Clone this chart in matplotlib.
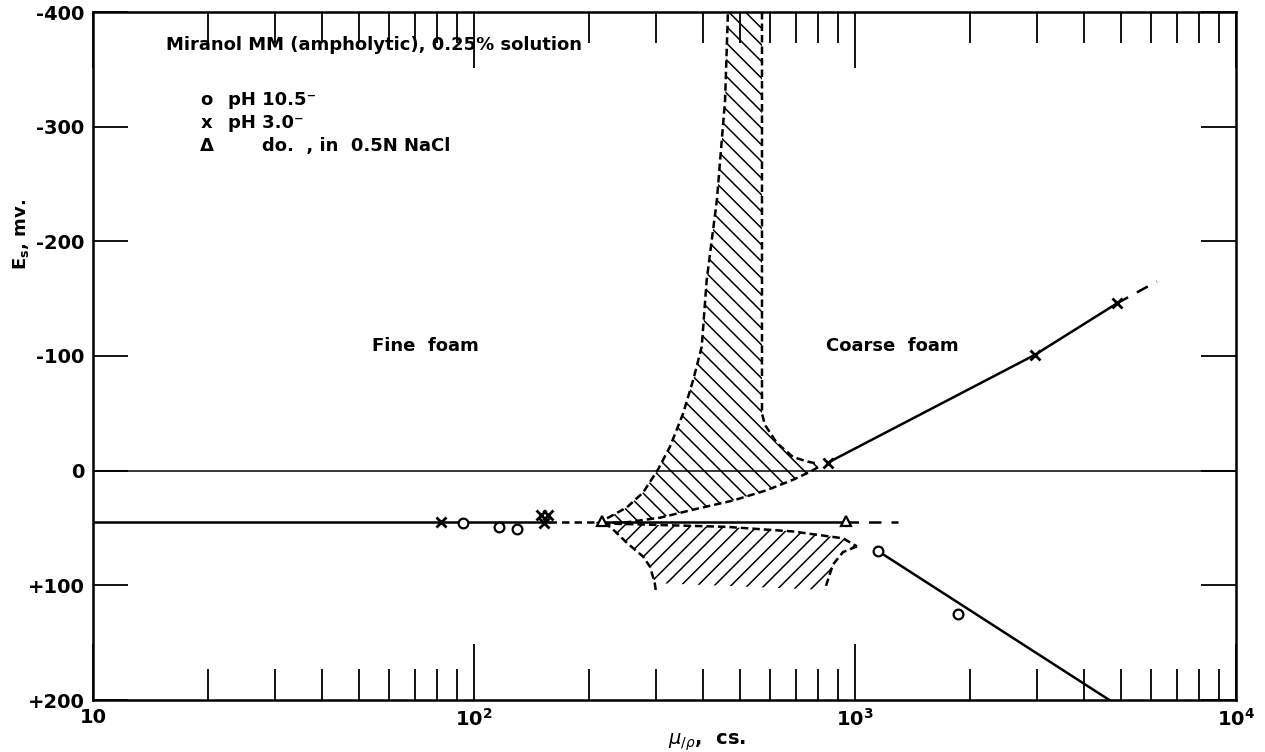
import math
import matplotlib
matplotlib.use("Agg")
import matplotlib.pyplot as plt
from matplotlib.ticker import FixedLocator, LogLocator, FuncFormatter, NullFormatter

# measured points
ph105_x = [93.5, 116, 130, 1148, 1860]        # pH 10.5 (circles)
ph105_y = [46, 49, 51, 70, 125]
ph30_x = [82, 150, 156, 153, 849, 2965, 4875]  # pH 3.0 (crosses)
ph30_y = [45, 39, 39, 46, -7, -101, -146]
nacl_x = [217, 946]                            # do., in 0.5N NaCl (triangles)
nacl_y = [44, 44]

# drawn curves
base_y = 45
base_x = [10, 157, 218, 946, 1300]
coarse_x = [849, 2965, 4875]
coarse_y = [-7, -101, -146]
coarse_ext_x = [4875, 6200]
coarse_ext_y = [-146, -165]
pos_x = [1148, 4700]
pos_y = [70, 201]

# hatched zone above the base line
up_left_x = [210, 228, 252, 278, 304, 327, 354, 376, 396, 408, 434, 456, 464]
up_left_y = [46, 40, 32, 19, -1, -21, -50, -79, -108, -166, -236, -323, -400]
up_right_x = [570, 570, 580, 624, 687, 748, 800]
up_right_y = [-400, -50, -40, -24, -12, -8, -6]
up_bot_x = [800, 762, 687, 587, 479, 376, 308, 252, 210]
up_bot_y = [-3, 1, 8, 17, 26, 34, 41, 45, 46]

# hatched zone below the base line
lo_top_x = [218, 461, 687, 930, 1012]
lo_top_y = [46, 49, 53, 59, 66]
lo_right_x = [1012, 930, 875, 840, 835]
lo_right_y = [66, 71, 82, 100, 104]
lo_left_x = [300, 298, 290, 278, 252, 228, 218]
lo_left_y = [104, 98, 84, 75, 63, 49, 46]

plt.rcParams['font.family'] = ['DejaVu Sans']
plt.rcParams['hatch.linewidth'] = 1.1
plt.rcParams['mathtext.fontset'] = 'dejavusans'

fig = plt.figure(figsize=(12.65, 7.52), dpi=100)
ax = fig.add_axes([93 / 1265, 52 / 752, 1143 / 1265, 688 / 752])
ax.set_xscale('log')
ax.set_xlim(10, 1e4)
ax.set_ylim(200, -400)

dash = (0, (3, 1.6))
lw = 1.8

# hatched zones
ax.fill(up_left_x + up_right_x + up_bot_x, up_left_y + up_right_y + up_bot_y,
        facecolor='none', edgecolor='black', linewidth=0, hatch='\\\\', zorder=1)
ax.fill(lo_top_x + lo_right_x[1:] + lo_left_x[1:], lo_top_y + lo_right_y[1:] + lo_left_y[1:],
        facecolor='none', edgecolor='black', linewidth=0, hatch='//', zorder=1)
for bx, by in [(up_left_x, up_left_y), (up_right_x, up_right_y), (up_bot_x, up_bot_y),
               (lo_top_x, lo_top_y), (lo_right_x, lo_right_y), (lo_left_x, lo_left_y)]:
    ax.plot(bx, by, color='black', lw=lw, linestyle=dash, zorder=2)

# zero line
ax.axhline(0, color='black', lw=1.1, zorder=2)

# base line at about +45 mV
ax.plot(base_x[0:2], [base_y] * 2, color='black', lw=lw, zorder=3)
ax.plot(base_x[1:3], [base_y] * 2, color='black', lw=lw, linestyle=(0, (3, 2)), zorder=3)
ax.plot(base_x[2:4], [base_y] * 2, color='black', lw=lw, zorder=3)
ax.plot(base_x[3:5], [base_y] * 2, color='black', lw=lw, linestyle=(0, (5, 4)), zorder=3)

# coarse foam lines
ax.plot(coarse_x, coarse_y, color='black', lw=lw, zorder=3)
ax.plot(coarse_ext_x, coarse_ext_y, color='black', lw=lw, linestyle=(0, (5, 4)), zorder=3)
ax.plot(pos_x, pos_y, color='black', lw=lw, zorder=3)

# markers
ax.plot(ph105_x, ph105_y, linestyle='none', marker='o', ms=7, mfc='white', mec='black', mew=1.6, zorder=5)
ax.plot(ph30_x, ph30_y, linestyle='none', marker='x', ms=6.5, mec='black', mew=2.0, zorder=5)
ax.plot(nacl_x, nacl_y, linestyle='none', marker='^', ms=7.5, mfc='white', mec='black', mew=1.6, zorder=5)

# axes styling
for s in ax.spines.values():
    s.set_linewidth(1.8)
ax.xaxis.set_major_locator(FixedLocator([10, 100, 1000, 10000]))
ax.xaxis.set_minor_locator(LogLocator(base=10, subs=range(2, 10)))
ax.xaxis.set_minor_formatter(NullFormatter())
ax.xaxis.set_major_formatter(FuncFormatter(
    lambda v, p: '10' if v == 10 else r'$\mathregular{10^{%d}}$' % round(math.log10(v))))
ax.yaxis.set_major_locator(FixedLocator([-400, -300, -200, -100, 0, 100, 200]))
ax.yaxis.set_major_formatter(FuncFormatter(lambda v, p: '+%d' % v if v > 0 else '%d' % v))

ax.tick_params(axis='x', which='major', direction='in', top=True, bottom=True,
               length=40, width=1.3, pad=6, labelsize=14)
ax.tick_params(axis='x', which='minor', direction='in', top=True, bottom=True,
               length=22, width=1.3)
ax.tick_params(axis='y', which='major', direction='in', left=True, right=True,
               length=25, width=1.3, pad=6, labelsize=14)
for lab in ax.get_xticklabels() + ax.get_yticklabels():
    lab.set_fontweight('bold')

# texts
tkw = dict(fontsize=13, fontweight='bold', va='center')
ax.text(15.5, -371, 'Miranol MM (ampholytic), 0.25% solution', **tkw)
ax.text(19.9, -323, 'o', ha='center', **tkw)
ax.text(22.6, -323, 'pH 10.5\u207b', **tkw)
ax.text(19.9, -303, 'x', ha='center', **tkw)
ax.text(22.6, -303, 'pH 3.0\u207b', **tkw)
ax.text(19.9, -283, '\u0394', ha='center', **tkw)
ax.text(27.8, -283, 'do.  , in  0.5N NaCl', **tkw)
ax.text(54, -109, 'Fine  foam', **tkw)
ax.text(840, -109, 'Coarse  foam', **tkw)

ax.set_ylabel(r'E$_\mathregular{s}$, mv.', fontsize=13, fontweight='bold')
ax.yaxis.set_label_coords(-0.054, 0.676)
fig.text(668 / 1265, 1 - 742 / 752, r'$\mu_{/\rho}$,  cs.', fontsize=14, fontweight='bold',
         ha='left', va='center')

fig.savefig('out.png', dpi=100)
